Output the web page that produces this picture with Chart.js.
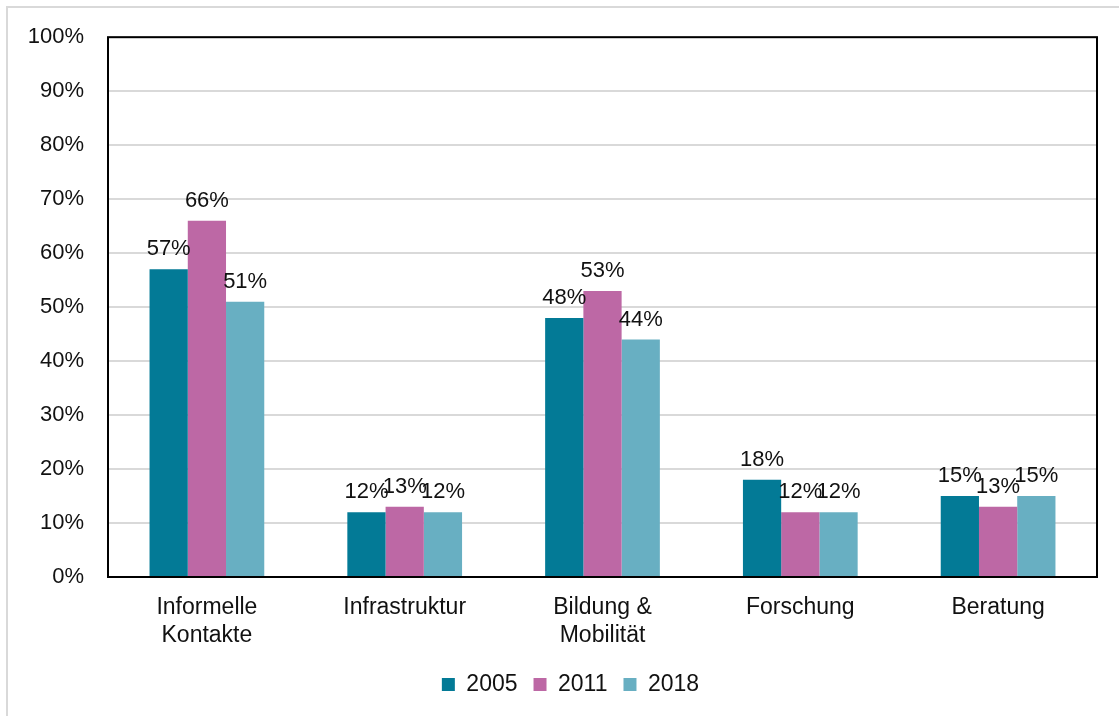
<!DOCTYPE html>
<html lang="de">
<head>
  <meta charset="UTF-8">
  <title>Kooperationsformen 2005 – 2018</title>
  <script src="https://cdn.jsdelivr.net/npm/chart.js"></script>
  <style>
    html, body { margin: 0; padding: 0; background: #fff; overflow: hidden; }
    .frame {
      position: absolute; left: 6px; top: 6px;
      width: 1130px; height: 730px;
      border: 2px solid #d9d9d9;
    }
    .wrap { position: absolute; left: 0; top: 0; width: 1119px; height: 716px; }
  </style>
</head>
<body>
  <div class="frame"></div>
  <div class="wrap"><canvas id="chart"></canvas></div>

  <script>
    // Daten
    const categories = [['Informelle', 'Kontakte'], 'Infrastruktur', ['Bildung &', 'Mobilität'], 'Forschung', 'Beratung'];
    const years = ['2005', '2011', '2018'];
    const values2005 = [57, 12, 48, 18, 15];
    const values2011 = [66, 13, 53, 12, 13];
    const values2018 = [51, 12, 44, 12, 15];
    const colors = ['#037a96', '#bd68a5', '#68afc2'];

    const FONT = '"Liberation Sans", Arial, sans-serif';
    const TEXT = '#111';

    // Werte über den Balken
    const barLabels = {
      id: 'barLabels',
      afterDatasetsDraw(chart) {
        const ctx = chart.ctx;
        ctx.save();
        ctx.font = '22px ' + FONT;
        ctx.fillStyle = TEXT;
        ctx.textAlign = 'center';
        ctx.textBaseline = 'bottom';
        chart.data.datasets.forEach((ds, i) => {
          chart.getDatasetMeta(i).data.forEach((bar, j) => {
            ctx.fillText(ds.data[j] + '%', bar.x, bar.y - 9);
          });
        });
        ctx.restore();
      }
    };

    // Rahmen um die Zeichenfläche + Legende etwas nach rechts
    const plotBorder = {
      id: 'plotBorder',
      afterLayout(chart) {
        chart.legend.left += 22;
        chart.legend.right += 22;
      },
      afterDraw(chart) {
        const a = chart.chartArea;
        const ctx = chart.ctx;
        ctx.save();
        ctx.strokeStyle = '#000';
        ctx.lineWidth = 2;
        ctx.strokeRect(a.left, a.top, a.right - a.left, a.bottom - a.top);
        ctx.restore();
      }
    };

    new Chart(document.getElementById('chart'), {
      type: 'bar',
      data: {
        labels: categories,
        datasets: [
          { label: years[0], data: values2005, backgroundColor: colors[0] },
          { label: years[1], data: values2011, backgroundColor: colors[1] },
          { label: years[2], data: values2018, backgroundColor: colors[2] }
        ]
      },
      options: {
        responsive: true,
        maintainAspectRatio: false,
        animation: false,
        layout: { padding: { top: 35, right: 22, left: 0, bottom: 10 } },
        datasets: { bar: { categoryPercentage: 0.58, barPercentage: 1 } },
        plugins: {
          tooltip: { enabled: false },
          legend: {
            position: 'bottom',
            labels: {
              color: TEXT,
              font: { family: FONT, size: 23 },
              boxWidth: 13,
              boxHeight: 13,
              padding: 16
            }
          }
        },
        scales: {
          x: {
            grid: { display: false },
            border: { display: false },
            ticks: {
              color: TEXT,
              font: { family: FONT, size: 23, lineHeight: 1.2 },
              padding: 9,
              maxRotation: 0,
              autoSkip: false
            },
            afterFit(scale) { scale.height = 80; }
          },
          y: {
            min: 0,
            max: 100,
            grid: { color: '#d9d9d9', lineWidth: 2, drawTicks: false },
            border: { display: false },
            ticks: {
              stepSize: 10,
              color: TEXT,
              font: { family: FONT, size: 22 },
              padding: 24,
              callback: v => v + '%'
            },
            afterFit(scale) { scale.width = 108; }
          }
        }
      },
      plugins: [barLabels, plotBorder]
    });
  </script>
</body>
</html>
